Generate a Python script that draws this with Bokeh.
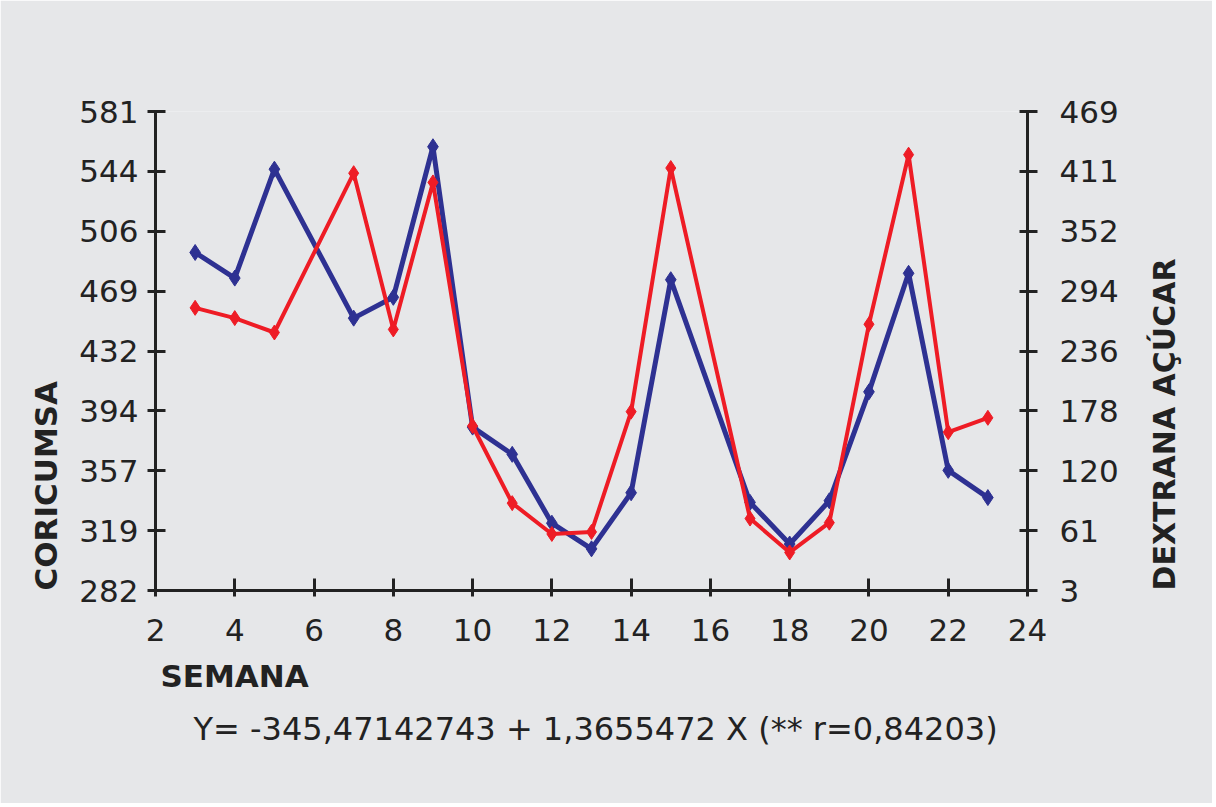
import math
import numpy as np
from bokeh.plotting import figure
from bokeh.models import Range1d, LinearAxis, FixedTicker, Title
from bokeh.embed import file_html
from bokeh.resources import INLINE

# ---- data ----
weeks = [3, 4, 5, 7, 8, 9, 10, 11, 12, 13, 14, 15, 17, 18, 19, 20, 21, 22, 23]
coricumsa = [493, 477, 545, 452, 465, 559, 384, 367, 324, 308, 343, 476,
             337, 311, 338, 406, 480, 357, 340]
dextrana = [278, 268, 254, 409, 257, 400, 163, 88, 58, 60, 177, 414,
            73, 40, 69, 262, 427, 157, 171]

left_tick_labels = ["282", "319", "357", "394", "432", "469", "506", "544", "581"]
right_tick_labels = ["3", "61", "120", "178", "236", "294", "352", "411", "469"]
x_ticks = [2, 4, 6, 8, 10, 12, 14, 16, 18, 20, 22, 24]

left_title = "CORICUMSA"
right_title = "DEXTRANA AÇÚCAR"
x_title = "SEMANA"
equation = "Y= -345,47142743 + 1,3655472 X (** r=0,84203)"

BG = "#E6E7E9"
AX = "#222222"
BLUE = "#2E3192"
RED = "#EE1C25"
FONT = "DejaVu Sans"

left_min, left_max = 282, 581
right_min, right_max = 3, 469

p = figure(width=1212, height=803, output_backend="svg", toolbar_location=None,
           x_range=Range1d(2, 24), y_range=Range1d(left_min, left_max),
           min_border_left=155, min_border_right=185,
           min_border_top=111, min_border_bottom=213)
p.background_fill_color = BG
p.border_fill_color = BG
p.outline_line_color = None
p.grid.visible = False
p.extra_y_ranges = {"right": Range1d(right_min, right_max)}

left_ticks = list(np.linspace(left_min, left_max, len(left_tick_labels)))
right_ticks = list(np.linspace(right_min, right_max, len(right_tick_labels)))


def style_axis(ax, tin, tout, standoff):
    ax.axis_line_color = AX
    ax.axis_line_width = 3
    ax.major_tick_line_color = AX
    ax.major_tick_line_width = 3
    ax.major_tick_in = tin
    ax.major_tick_out = tout
    ax.minor_tick_line_color = None
    ax.major_label_text_font = FONT
    ax.major_label_text_font_size = "31px"
    ax.major_label_text_color = "#222222"
    ax.major_label_standoff = standoff
    ax.axis_label_text_font = FONT
    ax.axis_label_text_font_style = "bold"
    ax.axis_label_text_color = "#222222"


# x axis
xa = p.xaxis[0]
xa.ticker = FixedTicker(ticks=x_ticks)
style_axis(xa, 12, 6, 22)

# left axis
ya = p.yaxis[0]
ya.ticker = FixedTicker(ticks=left_ticks)
ya.major_label_overrides = {t: l for t, l in zip(left_ticks, left_tick_labels)}
style_axis(ya, 10, 8, 9)

# right axis
ra = LinearAxis(y_range_name="right")
ra.ticker = FixedTicker(ticks=right_ticks)
ra.major_label_overrides = {t: l for t, l in zip(right_ticks, right_tick_labels)}
style_axis(ra, 8, 10, 22)
ra.axis_label = right_title
ra.axis_label_text_font_size = "30px"
ra.axis_label_standoff = 43
ra.axis_label_orientation = math.pi / 2
ra.axis_label_align = "start"
p.add_layout(ra, "right")

# left title (reads bottom to top, starts at the bottom of the frame)
p.add_layout(Title(text=left_title, align="left", offset=0, standoff=26,
                   text_font=FONT, text_font_style="bold",
                   text_font_size="31px", text_color="#222222"), "left")

# x title and equation below
p.add_layout(Title(text=x_title, align="left", offset=5, standoff=24,
                   text_font=FONT, text_font_style="bold",
                   text_font_size="31px", text_color="#222222"), "below")
p.add_layout(Title(text=equation, align="left", offset=38, standoff=5,
                   text_font=FONT, text_font_style="normal",
                   text_font_size="32px", text_color="#222222"), "below")

# series
p.line(weeks, coricumsa, line_color=BLUE, line_width=5)
p.scatter(weeks, coricumsa, marker="diamond", size=16, fill_color=BLUE,
          line_color=BLUE)
p.line(weeks, dextrana, line_color=RED, line_width=4, y_range_name="right")
p.scatter(weeks, dextrana, marker="diamond", size=15, fill_color=RED,
          line_color=RED, y_range_name="right")

open("out.html", "w").write(file_html(p, INLINE))
